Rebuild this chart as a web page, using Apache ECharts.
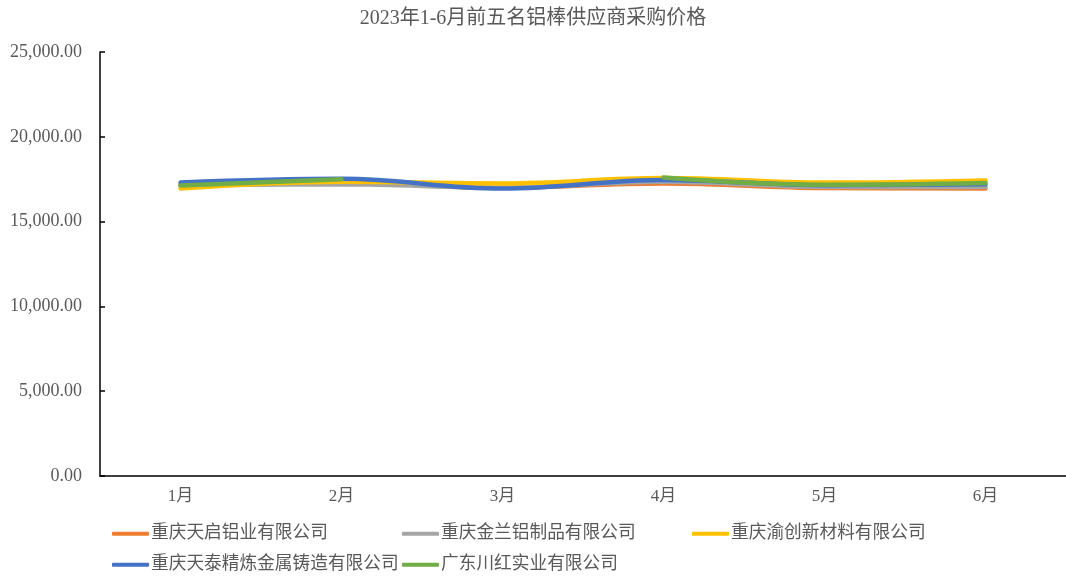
<!DOCTYPE html>
<html>
<head>
<meta charset="utf-8">
<script src="https://cdn.jsdelivr.net/npm/echarts@6/dist/echarts.min.js"></script>
<style>html,body{margin:0;padding:0;background:#fff}#c{width:1066px;height:578px}</style>
</head>
<body>
<div id="c"></div>
<script>
const titleText = '2023年1-6月前五名铝棒供应商采购价格';
const categories = ['1月', '2月', '3月', '4月', '5月', '6月'];
const seriesNames = ['重庆天启铝业有限公司', '重庆金兰铝制品有限公司', '重庆渝创新材料有限公司', '重庆天泰精炼金属铸造有限公司', '广东川红实业有限公司'];
const tianqi = [17150, 17300, 17000, 17250, 16980, 16950];
const jinlan = [17150, 17200, 17000, 17350, 17050, 17040];
const yuchuang = [16950, 17350, 17250, 17570, 17300, 17430];
const tiantai = [17300, 17520, 16950, 17450, 17150, 17200];
const chuanhong = [17130, 17500, null, 17600, 17170, 17280];
const yTicks = [0, 5000, 10000, 15000, 20000, 25000];

const colors = ['#ED7D31', '#A5A5A5', '#FFC000', '#4472C4', '#70AD47'];
const values = [tianqi, jinlan, yuchuang, tiantai, chuanhong];
const fontFam = '"Liberation Serif", "Noto Sans CJK SC", serif';
const textColor = '#595959';

const legendPos = [
  {left: 112, top: 525},
  {left: 402, top: 525},
  {left: 692, top: 525},
  {left: 112, top: 556},
  {left: 402, top: 556}
];

const chart = echarts.init(document.getElementById('c'));
chart.setOption({
  animation: false,
  backgroundColor: '#fff',
  title: {
    text: titleText,
    left: 'center',
    top: 4,
    textStyle: {fontFamily: fontFam, fontSize: 20, fontWeight: 'normal', color: textColor}
  },
  legend: seriesNames.map((n, i) => ({
    data: [n],
    left: legendPos[i].left,
    top: legendPos[i].top,
    padding: 0,
    icon: 'roundRect',
    itemWidth: 37,
    itemHeight: 4,
    itemGap: 0,
    textStyle: {fontFamily: fontFam, fontSize: 17.7, color: textColor, padding: [0, 0, 0, -3]}
  })),
  grid: {left: 100, right: 0, top: 52, bottom: 102, containLabel: false},
  xAxis: {
    type: 'category',
    data: categories,
    boundaryGap: true,
    axisLine: {lineStyle: {color: '#000', width: 1.5}},
    axisTick: {inside: true, length: 5, lineStyle: {color: '#000', width: 1.5}},
    axisLabel: {fontFamily: fontFam, fontSize: 17, color: textColor, margin: 12}
  },
  yAxis: {
    type: 'value',
    min: yTicks[0],
    max: yTicks[yTicks.length - 1],
    interval: yTicks[1] - yTicks[0],
    splitLine: {show: false},
    axisLine: {show: true, lineStyle: {color: '#000', width: 1.5}},
    axisTick: {show: true, inside: true, length: 5, lineStyle: {color: '#000', width: 1.5}},
    axisLabel: {
      fontFamily: fontFam, fontSize: 18, color: textColor, margin: 18,
      formatter: v => v.toLocaleString('en-US', {minimumFractionDigits: 2, maximumFractionDigits: 2})
    }
  },
  series: seriesNames.map((n, i) => ({
    name: n,
    type: 'line',
    data: values[i],
    smooth: 0.4,
    connectNulls: false,
    symbol: 'none',
    lineStyle: {width: 4.5, color: colors[i], cap: 'round'},
    itemStyle: {color: colors[i]}
  }))
});
</script>
</body>
</html>
